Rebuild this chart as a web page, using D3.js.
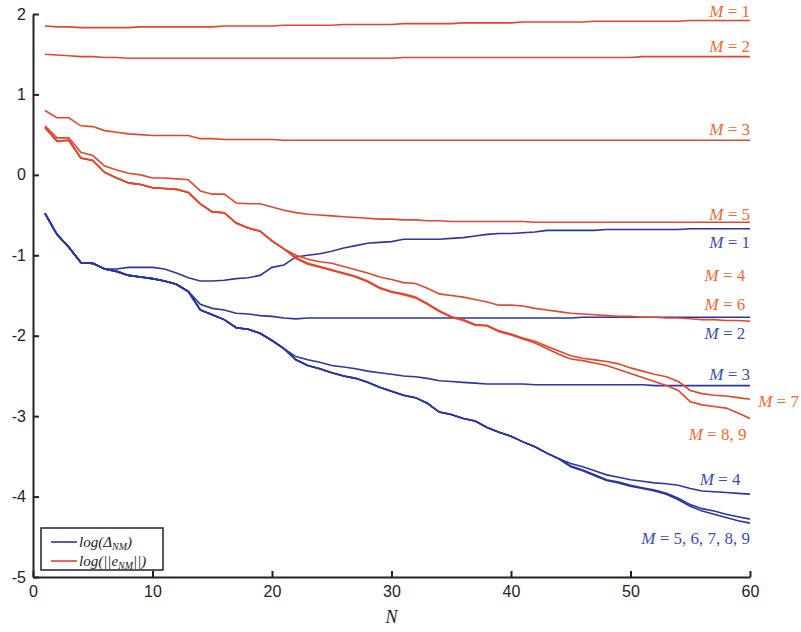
<!DOCTYPE html>
<html>
<head>
<meta charset="utf-8">
<script src="https://cdn.jsdelivr.net/npm/d3@7"></script>
<style>
  body { margin: 0; background: #fff; }
  svg { display: block; }
</style>
</head>
<body>
<div id="chart"></div>
<script>
// x positions: N = 1..60
var nValues = d3.range(1, 61);

// log(||e_NM||) - red curves
var redM1 = [1.85,1.84,1.84,1.83,1.83,1.83,1.83,1.83,1.84,1.84,
             1.84,1.84,1.84,1.84,1.84,1.85,1.85,1.85,1.85,1.85,
             1.86,1.86,1.86,1.86,1.86,1.87,1.87,1.87,1.87,1.87,
             1.88,1.88,1.88,1.88,1.88,1.89,1.89,1.89,1.89,1.89,
             1.90,1.90,1.90,1.90,1.90,1.90,1.91,1.91,1.91,1.91,
             1.91,1.91,1.91,1.91,1.92,1.92,1.92,1.92,1.92,1.92];
var redM2 = [1.50,1.49,1.48,1.47,1.47,1.46,1.46,1.45,1.45,1.45,
             1.45,1.45,1.45,1.45,1.45,1.45,1.45,1.45,1.45,1.45,
             1.45,1.45,1.45,1.45,1.45,1.45,1.45,1.45,1.45,1.45,
             1.46,1.46,1.46,1.46,1.46,1.46,1.46,1.46,1.46,1.46,
             1.46,1.46,1.46,1.46,1.46,1.46,1.46,1.46,1.46,1.46,
             1.47,1.47,1.47,1.47,1.47,1.47,1.47,1.47,1.47,1.47];
var redM3 = [0.80,0.71,0.71,0.61,0.60,0.55,0.53,0.51,0.50,0.49,
             0.49,0.49,0.49,0.45,0.45,0.44,0.44,0.44,0.44,0.44,
             0.43,0.43,0.43,0.43,0.43,0.43,0.43,0.43,0.43,0.43,
             0.43,0.43,0.43,0.43,0.43,0.43,0.43,0.43,0.43,0.43,
             0.43,0.43,0.43,0.43,0.43,0.43,0.43,0.43,0.43,0.43,
             0.43,0.43,0.43,0.43,0.43,0.43,0.43,0.43,0.43,0.43];
var redM5 = [0.61,0.46,0.46,0.28,0.24,0.11,0.06,0.02,0.00,-0.04,
             -0.04,-0.05,-0.06,-0.20,-0.24,-0.24,-0.35,-0.36,-0.36,-0.40,
             -0.44,-0.47,-0.49,-0.50,-0.51,-0.52,-0.53,-0.54,-0.55,-0.55,
             -0.56,-0.56,-0.57,-0.57,-0.58,-0.58,-0.58,-0.58,-0.58,-0.58,
             -0.58,-0.59,-0.59,-0.59,-0.59,-0.59,-0.59,-0.59,-0.59,-0.59,
             -0.59,-0.59,-0.59,-0.59,-0.59,-0.59,-0.59,-0.59,-0.59,-0.59];
// shared start of the lower red bundle (N = 1..21)
var redLowStart = [0.59,0.42,0.43,0.21,0.18,0.03,-0.04,-0.10,-0.12,-0.16,
                   -0.17,-0.18,-0.22,-0.36,-0.46,-0.47,-0.60,-0.66,-0.70,-0.82,
                   -0.92];
var redM6 = redLowStart.concat([
             -1.00,-1.05,-1.08,-1.10,-1.14,-1.18,-1.22,-1.27,-1.30,
             -1.34,-1.35,-1.41,-1.48,-1.50,-1.52,-1.55,-1.58,-1.62,-1.62,
             -1.63,-1.66,-1.68,-1.70,-1.72,-1.73,-1.74,-1.75,-1.76,-1.76,
             -1.77,-1.77,-1.78,-1.78,-1.79,-1.80,-1.80,-1.81,-1.81,-1.82]);
var redM7 = redLowStart.concat([
             -1.03,-1.10,-1.14,-1.18,-1.22,-1.26,-1.32,-1.40,-1.45,
             -1.48,-1.52,-1.60,-1.69,-1.76,-1.80,-1.86,-1.87,-1.94,-1.98,
             -2.03,-2.07,-2.13,-2.19,-2.25,-2.28,-2.30,-2.32,-2.35,-2.40,
             -2.44,-2.48,-2.51,-2.57,-2.68,-2.72,-2.74,-2.75,-2.77,-2.79]);
var redM8 = redLowStart.concat([
             -1.04,-1.11,-1.15,-1.19,-1.23,-1.27,-1.33,-1.41,-1.46,
             -1.49,-1.53,-1.61,-1.70,-1.77,-1.81,-1.87,-1.88,-1.95,-1.99,
             -2.04,-2.09,-2.16,-2.23,-2.29,-2.31,-2.34,-2.37,-2.42,-2.47,
             -2.52,-2.57,-2.62,-2.68,-2.82,-2.86,-2.88,-2.90,-2.96,-3.03]);

// log(Delta_NM) - blue curves
var blueStart = [-0.48,-0.74,-0.90,-1.09,-1.10,-1.17];
var blueM1 = blueStart.concat([
             -1.17,-1.15,-1.15,-1.15,
             -1.17,-1.22,-1.28,-1.32,-1.32,-1.31,-1.29,-1.28,-1.25,-1.15,
             -1.12,-1.02,-1.00,-0.98,-0.95,-0.91,-0.88,-0.85,-0.84,-0.83,
             -0.80,-0.80,-0.80,-0.80,-0.79,-0.78,-0.76,-0.74,-0.73,-0.73,
             -0.72,-0.71,-0.69,-0.69,-0.69,-0.69,-0.69,-0.68,-0.68,-0.68,
             -0.68,-0.68,-0.68,-0.68,-0.67,-0.67,-0.67,-0.67,-0.67,-0.67]);
var blueMid = [-1.20,-1.25,-1.27,-1.29,-1.32,-1.36,-1.45];   // N = 7..13
var blueM2 = blueStart.concat(blueMid, [
             -1.61,-1.66,-1.68,-1.72,-1.73,-1.75,-1.76,
             -1.78,-1.79,-1.78,-1.78,-1.78,-1.78,-1.78,-1.78,-1.78,-1.78,
             -1.78,-1.78,-1.78,-1.78,-1.78,-1.78,-1.78,-1.78,-1.78,-1.78,
             -1.78,-1.78,-1.78,-1.78,-1.78,-1.77,-1.77,-1.77,-1.77,-1.77,
             -1.77,-1.77,-1.77,-1.77,-1.77,-1.77,-1.77,-1.77,-1.77,-1.77]);
var blueLow = [-1.68,-1.74,-1.80,-1.90,-1.92,-1.97,-2.06,-2.16];   // N = 14..21
var blueM3 = blueStart.concat(blueMid, blueLow, [
             -2.26,-2.30,-2.33,-2.37,-2.39,-2.41,-2.44,-2.46,-2.48,
             -2.50,-2.51,-2.53,-2.56,-2.57,-2.58,-2.59,-2.60,-2.60,-2.60,
             -2.60,-2.61,-2.61,-2.61,-2.61,-2.61,-2.61,-2.61,-2.61,-2.61,
             -2.61,-2.62,-2.62,-2.62,-2.62,-2.62,-2.62,-2.62,-2.62,-2.62]);
var blueLow4 = [-2.30,-2.37,-2.41,-2.46,-2.50,-2.53,-2.58,-2.64,-2.69,
                -2.74,-2.77,-2.84,-2.95,-2.98,-3.03,-3.06,-3.14,-3.20,-3.25,
                -3.32,-3.38,-3.46,-3.53];   // N = 22..44
var blueM4 = blueStart.concat(blueMid, blueLow, blueLow4, [
             -3.59,-3.63,-3.68,-3.73,-3.76,-3.79,
             -3.81,-3.83,-3.84,-3.86,-3.90,-3.93,-3.94,-3.95,-3.96,-3.97]);
var blueM5 = blueStart.concat(blueMid, blueLow, blueLow4, [
             -3.62,-3.67,-3.73,-3.79,-3.82,-3.86,
             -3.89,-3.92,-3.96,-4.02,-4.10,-4.15,-4.18,-4.22,-4.25,-4.28]);
var blueM9 = blueStart.concat(blueMid, blueLow, blueLow4, [
             -3.63,-3.68,-3.74,-3.80,-3.83,-3.87,
             -3.90,-3.93,-3.97,-4.04,-4.12,-4.18,-4.22,-4.26,-4.30,-4.33]);

var yTicks = [-5, -4, -3, -2, -1, 0, 1, 2];
var xTicks = [0, 10, 20, 30, 40, 50, 60];

var redColor = "#e8442a", blueColor = "#2b36a4";
var redText = "#f26a2e", blueText = "#3a4cc0";

// curve labels: [name, colour, N, value, anchor]
var curveLabels = [
  ["1", redText, 60, 2.04, "end"],
  ["2", redText, 60, 1.60, "end"],
  ["3", redText, 60, 0.57, "end"],
  ["5", redText, 60, -0.49, "end"],
  ["1", blueText, 60, -0.83, "end"],
  ["4", redText, 59.6, -1.25, "end"],
  ["6", redText, 59.6, -1.61, "end"],
  ["2", blueText, 59.6, -1.97, "end"],
  ["3", blueText, 60, -2.48, "end"],
  ["7", redText, 60.35, -2.81, "start"],
  ["8, 9", redText, 59.7, -3.22, "end"],
  ["4", blueText, 59.2, -3.78, "end"],
  ["5, 6, 7, 8, 9", blueText, 60, -4.52, "end"]
];

var svg = d3.select("#chart").append("svg")
    .attr("width", 801).attr("height", 632);

var x = d3.scaleLinear().domain([0, 60]).range([33, 750]);
var y = d3.scaleLinear().domain([-5, 2]).range([577, 14]);

var line = d3.line()
    .x(function(d, i) { return x(nValues[i]); })
    .y(function(d) { return y(d); });

var redSeries = [redM1, redM2, redM3, redM5, redM6, redM7, redM8];
var blueSeries = [blueM1, blueM2, blueM3, blueM4, blueM5, blueM9];

svg.append("g").selectAll("path")
  .data(blueSeries)
  .enter().append("path")
    .attr("d", line)
    .attr("fill", "none")
    .attr("stroke", blueColor)
    .attr("stroke-width", 1.6);

svg.append("g").selectAll("path")
  .data(redSeries)
  .enter().append("path")
    .attr("d", line)
    .attr("fill", "none")
    .attr("stroke", redColor)
    .attr("stroke-width", 1.6);

// axes (plain hyphen for negatives, as in the original)
var fmt = function(d) { return String(d); };
var xAxis = svg.append("g")
    .attr("transform", "translate(0," + y(-5) + ")")
    .call(d3.axisBottom(x).tickValues(xTicks).tickFormat(fmt)
          .tickSizeInner(-6).tickSizeOuter(0).tickPadding(9));
var yAxis = svg.append("g")
    .attr("transform", "translate(" + x(0) + ",0)")
    .call(d3.axisLeft(y).tickValues(yTicks).tickFormat(fmt)
          .tickSizeInner(-6).tickSizeOuter(0).tickPadding(7));

[xAxis, yAxis].forEach(function(a) {
  a.select(".domain").attr("stroke", "#222").attr("stroke-width", 2);
  a.selectAll(".tick line").attr("stroke", "#222").attr("stroke-width", 2);
  a.selectAll("text")
    .attr("font-family", "'Liberation Sans', Arial, sans-serif")
    .attr("font-size", 16)
    .attr("fill", "#222");
});

// curve labels
var lab = svg.append("g")
    .attr("font-family", "'Liberation Serif', 'Times New Roman', serif")
    .attr("font-size", 17);
curveLabels.forEach(function(c) {
  var t = lab.append("text")
      .attr("x", x(c[2]) + (c[4] === "start" ? 4 : 0))
      .attr("y", y(c[3]))
      .attr("dy", "0.35em")
      .attr("text-anchor", c[4])
      .attr("fill", c[1]);
  t.append("tspan").attr("font-style", "italic").text("M");
  t.append("tspan").text(" = " + c[0]);
});

// axis title
svg.append("text")
    .attr("x", x(30)).attr("y", 617)
    .attr("dy", "0.35em")
    .attr("text-anchor", "middle")
    .attr("font-family", "'Liberation Serif', serif")
    .attr("font-style", "italic")
    .attr("font-size", 18)
    .attr("fill", "#222")
    .text("N");

// legend
var legend = svg.append("g");
legend.append("rect")
    .attr("x", 41).attr("y", 528).attr("width", 122).attr("height", 42)
    .attr("fill", "#fff").attr("stroke", "#222").attr("stroke-width", 1.5);
var legendItems = [
  [blueColor, "log(Δ", "NM", ")"],
  [redColor, "log(||e", "NM", "||)"]
];
legendItems.forEach(function(d, i) {
  var ly = 542 + i * 19;
  legend.append("line")
      .attr("x1", 51).attr("x2", 77).attr("y1", ly).attr("y2", ly)
      .attr("stroke", d[0]).attr("stroke-width", 1.6);
  var t = legend.append("text")
      .attr("x", 79).attr("y", ly).attr("dy", "0.35em")
      .attr("font-family", "'Liberation Serif', serif")
      .attr("font-style", "italic")
      .attr("font-size", 15)
      .attr("fill", "#222");
  t.append("tspan").text(d[1]);
  t.append("tspan").attr("font-size", 10).attr("dy", "0.3em").text(d[2]);
  t.append("tspan").attr("dy", "-0.2em").text(d[3]);
});
</script>
</body>
</html>
